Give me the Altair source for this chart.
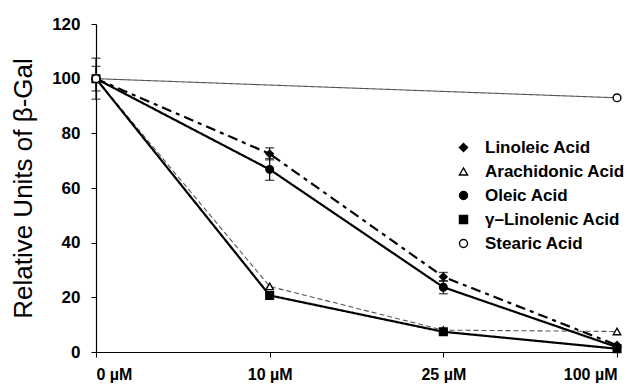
import altair as alt
import pandas as pd

# ---- data ----
conc = ["0 \u00b5M", "10 \u00b5M", "25 \u00b5M", "100 \u00b5M"]
series_names = ["Linoleic Acid", "Arachidonic Acid", "Oleic Acid",
                "\u03b3\u2013Linolenic Acid", "Stearic Acid"]

linoleic = [100, 72.5, 27.5, 2.5]
linoleic_err = [7.5, 2.2, 1.6, 0]
arachidonic = [100, 24.0, 8.0, 7.5]
oleic = [100, 66.8, 23.7, 1.8]
oleic_err = [4.5, 4.0, 2.4, 0]
linolenic = [100, 20.7, 7.4, 1.2]
stearic = [100, None, None, 93.0]

values = [linoleic, arachidonic, oleic, linolenic, stearic]
errors = [linoleic_err, [0] * 4, oleic_err, [0] * 4, [0] * 4]

thick_series = ["Linoleic Acid", "Oleic Acid", "\u03b3\u2013Linolenic Acid"]
thin_series = ["Arachidonic Acid", "Stearic Acid"]

style_keys = ["line " + n for n in series_names]
size_keys = ["marker " + n for n in series_names]

rows = []
for name, sk, mk, vals, errs in zip(series_names, style_keys, size_keys, values, errors):
    for c, v, e in zip(conc, vals, errs):
        if v is None:
            continue
        rows.append({"conc": c, "series": name, "style": sk, "msize": mk,
                     "value": v, "err": e})
df = pd.DataFrame(rows)

FONT = "Liberation Sans"
Y_TITLE = "Relative Units of \u03b2-Gal"

x_enc = alt.X("conc:N", sort=conc,
              scale=alt.Scale(type="point", padding=0),
              axis=alt.Axis(title=None, labelFlush=True, labelAngle=0))


def y_enc(field):
    return alt.Y(field, scale=alt.Scale(domain=[0, 120]),
                 axis=alt.Axis(values=[0, 20, 40, 60, 80, 100, 120], title=Y_TITLE))


dash_enc = alt.StrokeDash("style:N", legend=None, scale=alt.Scale(
    domain=style_keys,
    range=[[10, 5, 4, 5], [5, 3], [1, 0], [1, 0], [1, 0]]))

base = alt.Chart(df)

thick_lines = base.transform_filter(
    alt.FieldOneOfPredicate(field="series", oneOf=thick_series)
).mark_line(color="black", strokeWidth=2.2).encode(
    x=x_enc, y=y_enc("value:Q"), detail="style:N", strokeDash=dash_enc)

thin_lines = base.transform_filter(
    alt.FieldOneOfPredicate(field="series", oneOf=thin_series)
).mark_line(color="#555555", strokeWidth=1.1).encode(
    x=x_enc, y=y_enc("value:Q"), detail="style:N", strokeDash=dash_enc)

err_base = base.transform_filter("datum.err > 0").transform_calculate(
    lo="datum.value - datum.err", hi="datum.value + datum.err")

err_rule = err_base.mark_rule(color="black", strokeWidth=1.2).encode(
    x=x_enc, y=y_enc("lo:Q"), y2="hi:Q")
err_lo = err_base.mark_tick(color="black", size=9, thickness=1.3).encode(
    x=x_enc, y=y_enc("lo:Q"))
err_hi = err_base.mark_tick(color="black", size=9, thickness=1.3).encode(
    x=x_enc, y=y_enc("hi:Q"))

points = base.mark_point(strokeWidth=1.4, opacity=1).encode(
    x=x_enc,
    y=y_enc("value:Q"),
    shape=alt.Shape("series:N", title=None, scale=alt.Scale(
        domain=series_names,
        range=["diamond", "triangle-up", "circle", "square", "circle"])),
    fill=alt.Fill("series:N", title=None, scale=alt.Scale(
        domain=series_names,
        range=["black", "white", "black", "black", "white"])),
    stroke=alt.Stroke("series:N", title=None, scale=alt.Scale(
        domain=series_names,
        range=["black", "black", "black", "black", "black"])),
    size=alt.Size("msize:N", legend=None, scale=alt.Scale(
        domain=size_keys, range=[55, 60, 60, 45, 100])),
)

chart = alt.layer(thin_lines, thick_lines, err_rule, err_lo, err_hi, points).properties(
    width=521, height=328,
    autosize=alt.AutoSizeParams(type="none"),
    padding={"left": 96, "top": 24, "right": 20, "bottom": 38},
).configure_view(stroke=None).configure_axis(
    grid=False, domainColor="black", tickColor="black", domainWidth=1.2,
    labelFont=FONT, labelFontWeight="bold", labelColor="black",
    titleFont=FONT, titleColor="black", titleFontWeight="normal",
).configure_axisY(
    labelFontSize=17, tickSize=5, labelPadding=11, titleFontSize=26, titlePadding=15,
).configure_axisX(
    labelFontSize=16, tickSize=5, labelPadding=9,
).configure_legend(
    orient="none", legendX=359, legendY=115,
    labelFont=FONT, labelFontSize=17, labelFontWeight="bold", labelColor="black",
    labelOffset=13, symbolSize=65, symbolStrokeWidth=1.4,
    rowPadding=6, padding=0, labelLimit=300,
)

chart.save("out.html", embed_options={"renderer": "svg", "actions": False})
